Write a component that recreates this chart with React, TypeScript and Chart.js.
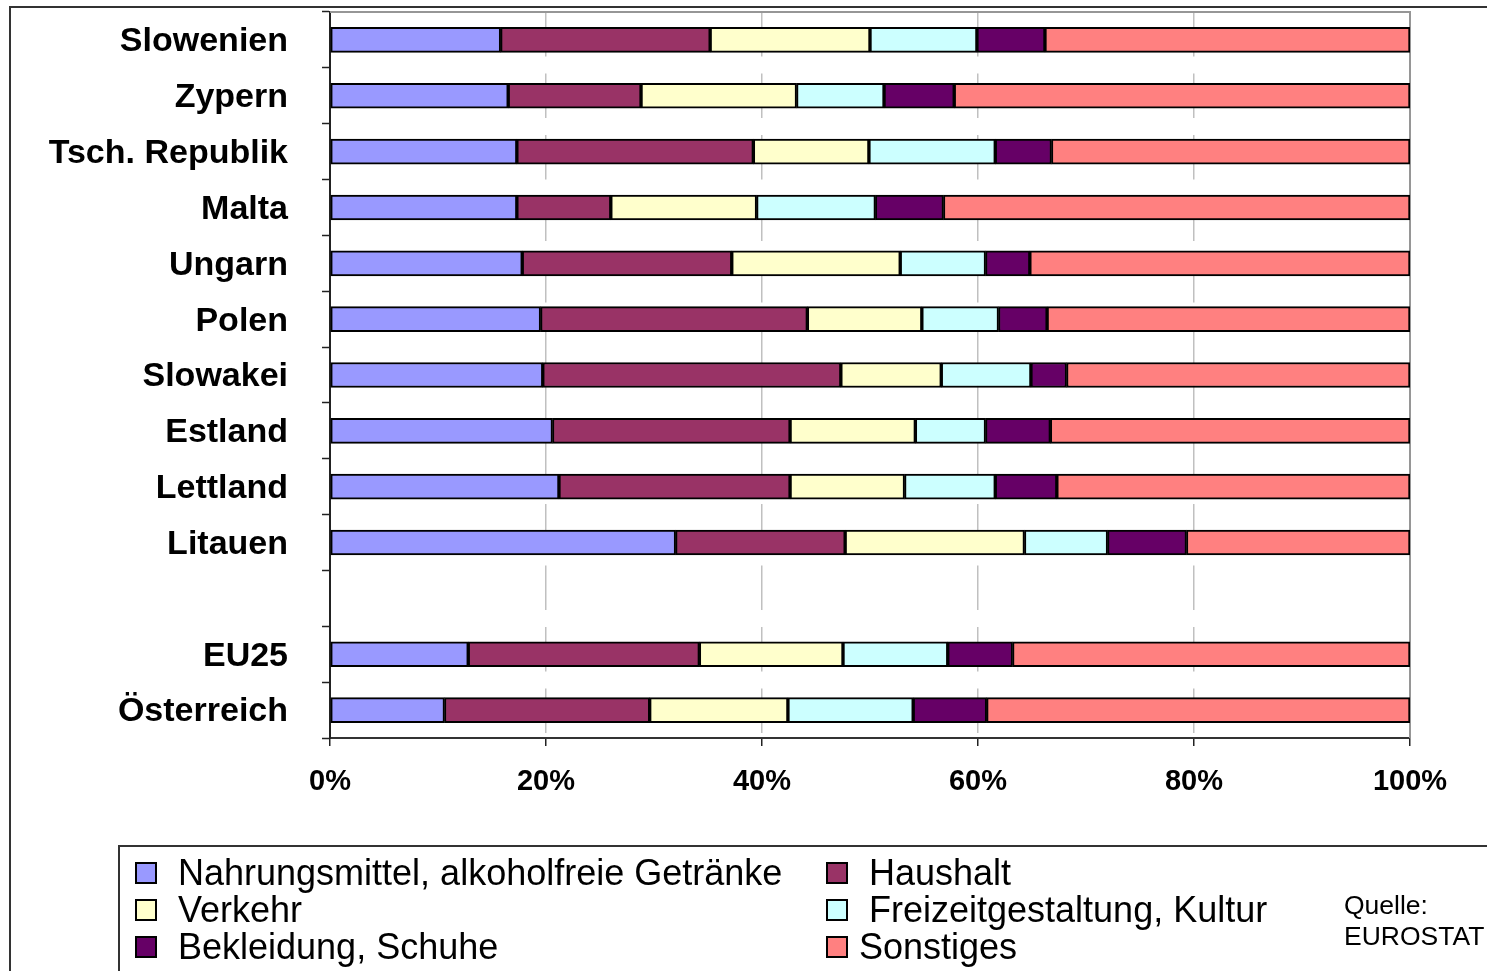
import React, { useEffect, useRef } from 'react';
import { Chart, registerables } from 'chart.js';

Chart.register(...registerables);

const categories = ['Slowenien', 'Zypern', 'Tsch. Republik', 'Malta', 'Ungarn', 'Polen', 'Slowakei', 'Estland', 'Lettland', 'Litauen', '', 'EU25', 'Österreich'];

const nahrung = [15.8, 16.5, 17.3, 17.3, 17.8, 19.5, 19.7, 20.6, 21.2, 32.0, null, 12.8, 10.6];
const haushalt = [19.4, 12.3, 21.9, 8.7, 19.4, 24.7, 27.6, 22.0, 21.4, 15.7, null, 21.4, 19.0];
const verkehr = [14.8, 14.4, 10.7, 13.5, 15.6, 10.6, 9.3, 11.6, 10.6, 16.6, null, 13.3, 12.8];
const freizeit = [9.9, 8.1, 11.7, 11.0, 7.9, 7.1, 8.3, 6.5, 8.4, 7.7, null, 9.7, 11.6];
const bekleidung = [6.3, 6.5, 5.2, 6.3, 4.1, 4.5, 3.3, 6.0, 5.7, 7.3, null, 6.0, 6.8];
const sonstiges = [33.8, 42.2, 33.2, 43.2, 35.2, 33.6, 31.8, 33.3, 32.7, 20.7, null, 36.8, 39.2];

const xTicks = [0, 20, 40, 60, 80, 100];

const seriesLabels = ['Nahrungsmittel, alkoholfreie Getränke', 'Haushalt', 'Verkehr', 'Freizeitgestaltung, Kultur', 'Bekleidung, Schuhe', 'Sonstiges'];
const seriesColors = ['#9999FF', '#993366', '#FFFFCC', '#CCFFFF', '#660066', '#FF8080'];
const series = [nahrung, haushalt, verkehr, freizeit, bekleidung, sonstiges];

// legend order (row-major, two columns) as in the original
const legendOrder = [0, 1, 2, 3, 4, 5];
const legendLeadingSpace = [true, true, true, true, true, false];

const sourceLines = ['Quelle:', 'EUROSTAT'];

const FONT = '"Liberation Sans", Arial, Helvetica, sans-serif';

export default function App() {
  const ref = useRef<HTMLCanvasElement>(null);

  useEffect(() => {
    const frame = {
      id: 'plotFrame',
      beforeDatasetsDraw(chart: any) {
        const { ctx, chartArea: a } = chart;
        ctx.save();
        ctx.strokeStyle = '#969696';
        ctx.lineWidth = 2;
        ctx.beginPath();
        ctx.moveTo(a.left, a.top);
        ctx.lineTo(a.right, a.top);
        ctx.lineTo(a.right, a.bottom);
        ctx.stroke();
        ctx.restore();
      },
    };

    const chart = new Chart(ref.current as HTMLCanvasElement, {
      type: 'bar',
      data: {
        labels: categories,
        datasets: series.map((d, i) => ({
          label: seriesLabels[i],
          data: d as any,
          backgroundColor: seriesColors[i],
          borderColor: '#000',
          borderWidth: 2,
          borderSkipped: false,
          barThickness: 25,
        })),
      },
      options: {
        indexAxis: 'y',
        responsive: false,
        animation: false,
        devicePixelRatio: 1,
        layout: { padding: { left: 0, top: 12, right: 77, bottom: 173 } },
        plugins: { legend: { display: false }, tooltip: { enabled: false } },
        scales: {
          x: {
            stacked: true,
            min: 0,
            max: 100,
            afterBuildTicks: (s: any) => {
              s.ticks = xTicks.map((v) => ({ value: v }));
            },
            ticks: {
              callback: (v: any) => v + '%',
              font: { family: FONT, size: 29, weight: 'bold' },
              color: '#000',
              padding: 19,
              maxRotation: 0,
              autoSkip: false,
            },
            grid: { color: '#c0c0c0', lineWidth: 1.5, tickColor: '#222', tickLength: 8, tickWidth: 1.5 },
            border: { color: '#333', width: 2, dash: [44.5, 17] },
            afterFit: (s: any) => {
              s.height = 60;
              s.paddingLeft = 0;
              s.paddingRight = 0;
            },
          },
          y: {
            stacked: true,
            ticks: {
              font: { family: FONT, size: 34, weight: 'bold' },
              color: '#000',
              padding: 34,
              labelOffset: 2,
              autoSkip: false,
            },
            grid: { drawOnChartArea: false, tickColor: '#222', tickLength: 8, tickWidth: 1.5 },
            border: { color: '#222', width: 2 },
            afterFit: (s: any) => {
              s.width = 330;
              s.paddingTop = 0;
              s.paddingBottom = 0;
            },
          },
        },
      } as any,
      plugins: [frame],
    });
    return () => chart.destroy();
  }, []);

  const colX = [135, 826];
  const rowY = [873, 910, 947];

  return (
    <div style={{ position: 'absolute', left: 0, top: 0, width: 1487, height: 971, overflow: 'hidden', background: '#fff' }}>
      <canvas ref={ref} width={1487} height={971} style={{ position: 'absolute', left: 0, top: 0, display: 'block' }} />
      <div style={{ position: 'absolute', left: 9, top: 6, width: 3000, height: 3000, borderLeft: '2px solid #333', borderTop: '2px solid #333', pointerEvents: 'none' }} />
      <div style={{ position: 'absolute', left: 118, top: 845, width: 3000, height: 3000, borderLeft: '2px solid #333', borderTop: '2px solid #333', background: 'transparent' }} />
      {legendOrder.map((si, k) => {
        const col = k % 2;
        const row = Math.floor(k / 2);
        return (
          <div
            key={si}
            style={{
              position: 'absolute',
              left: colX[col],
              top: rowY[row] - 20,
              height: 40,
              display: 'flex',
              alignItems: 'center',
              fontFamily: FONT,
              fontSize: 36,
              color: '#000',
              whiteSpace: 'pre',
            }}
          >
            <span style={{ display: 'inline-block', width: 22, height: 22, boxSizing: 'border-box', border: '2px solid #000', background: seriesColors[si], marginRight: 11 }} />
            <span>{(legendLeadingSpace[k] ? ' ' : '') + seriesLabels[si]}</span>
          </div>
        );
      })}
      <div style={{ position: 'absolute', left: 1344, top: 890, fontFamily: FONT, fontSize: 26.5, lineHeight: '31px', color: '#000' }}>
        {sourceLines.map((t) => (
          <div key={t}>{t}</div>
        ))}
      </div>
    </div>
  );
}
